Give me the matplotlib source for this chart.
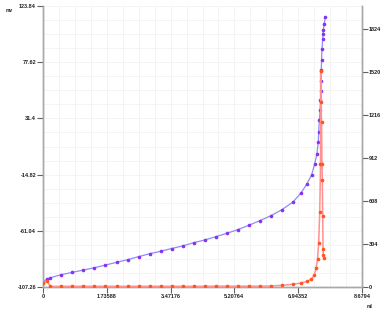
import matplotlib
matplotlib.use("Agg")
import matplotlib.pyplot as plt
from matplotlib.ticker import AutoMinorLocator

# ---- data ----
vol_mv = [0.0, 0.1, 0.2, 0.5, 0.8, 1.1, 1.4, 1.7, 2.0, 2.3, 2.6, 2.9, 3.2, 3.5,
          3.8, 4.1, 4.4, 4.7, 5.0, 5.3, 5.6, 5.9, 6.2, 6.5, 6.8, 7.02, 7.18,
          7.31, 7.39, 7.45, 7.49, 7.50, 7.52, 7.54, 7.55, 7.555, 7.56, 7.57,
          7.58, 7.59, 7.61, 7.62, 7.63, 7.65, 7.68]
mv = [-103.1, -101.0, -99.6, -97.1, -95.2, -93.3, -91.4, -89.2, -87.0, -84.8,
      -82.3, -79.9, -77.9, -75.6, -73.5, -70.8, -68.6, -65.9, -63.1, -60.1,
      -56.5, -52.7, -48.6, -43.7, -37.4, -29.9, -22.5, -14.9, -6.3, 1.9, 11.7,
      20.2, 30.1, 38.6, 46.5, 54.2, 61.9, 70.8, 79.4, 88.2, 96.4, 100.6, 104.1,
      109.0, 114.5]

vol_d = [0.0, 0.1, 0.2, 0.5, 0.8, 1.1, 1.4, 1.7, 2.0, 2.3, 2.6, 2.9, 3.2, 3.5,
         3.8, 4.1, 4.4, 4.7, 5.0, 5.3, 5.6, 5.9, 6.2, 6.5, 6.8, 7.02, 7.18,
         7.30, 7.38, 7.43, 7.47, 7.50, 7.53, 7.55, 7.555, 7.56, 7.58, 7.59,
         7.60, 7.61, 7.62, 7.63, 7.65]
deriv = [26, 45, 4, 5, 5, 5, 5, 5, 5, 5, 5, 5, 5, 5, 5, 5, 5, 6, 6, 6, 6, 6,
         7, 12, 19, 28, 40, 54, 83, 132, 198, 313, 532, 870, 1527, 1310, 1167,
         870, 757, 502, 269, 228, 207]

x_ticks = [0, 1.73588, 3.47176, 5.20764, 6.94352, 8.6794]
x_labels = ["0", "1.73588", "3.47176", "5.20764", "6.94352", "8.6794"]
l_ticks = [-107.26, -61.04, -14.82, 31.4, 77.62, 123.84]
l_labels = ["-107.26", "-61.04", "-14.82", "31.4", "77.62", "123.84"]
r_ticks = [0, 304, 608, 912, 1216, 1520, 1824]

# ---- figure ----
fig = plt.figure(figsize=(3.88, 3.10), dpi=100)
ax = fig.add_axes([43/388, 1-287/310, (362-43)/388, (287-6)/310])
ax2 = ax.twinx()

spine_c = "#a8a8a8"
for a in (ax, ax2):
    for s in a.spines.values():
        s.set_color(spine_c)
        s.set_linewidth(1.0)
    a.spines["top"].set_visible(False)

ax.set_xlim(0, 8.6794)
ax.set_ylim(-107.26, 123.84)
ax2.set_ylim(0, 1986)

ax.xaxis.set_minor_locator(AutoMinorLocator(4))
ax.yaxis.set_minor_locator(AutoMinorLocator(4))
ax.grid(True, which="both", color="#f2f2f2", linewidth=0.6)
ax.set_axisbelow(True)

ax.set_xticks(x_ticks)
ax.set_xticklabels(x_labels)
ax.set_yticks(l_ticks)
ax.set_yticklabels(l_labels)
ax2.set_yticks(r_ticks)
ax2.set_yticklabels([str(v) for v in r_ticks])

font = "Liberation Sans"
tick_kw = dict(labelsize=4, length=4, width=0.8, color="#606060", labelcolor="#222222", pad=1.0)
ax.tick_params(axis="both", which="major", **tick_kw)
ax.tick_params(axis="both", which="minor", length=0)
ax2.tick_params(axis="y", which="major", **tick_kw)
for lab in ax.get_xticklabels() + ax.get_yticklabels() + ax2.get_yticklabels():
    lab.set_fontweight("bold")
    lab.set_fontfamily(font)

ax.plot(vol_mv, mv, color="#8c8cff", linewidth=0.9, marker="o", markersize=1.6,
        markerfacecolor="#8833ee", markeredgecolor="#8833ee", zorder=3)
ax2.plot(vol_d, deriv, color="#ff9090", linewidth=1.1, marker="o", markersize=1.6,
         markerfacecolor="#ff5522", markeredgecolor="#ff5522", zorder=3)

fig.text(6/388, 1-12/310, "mv", fontsize=3.5, fontweight="bold", color="#222222", family=font)
fig.text(367/388, 1-308/310, "ml", fontsize=3.5, fontweight="bold", color="#222222", family=font)

fig.savefig("out.png", dpi=100)
